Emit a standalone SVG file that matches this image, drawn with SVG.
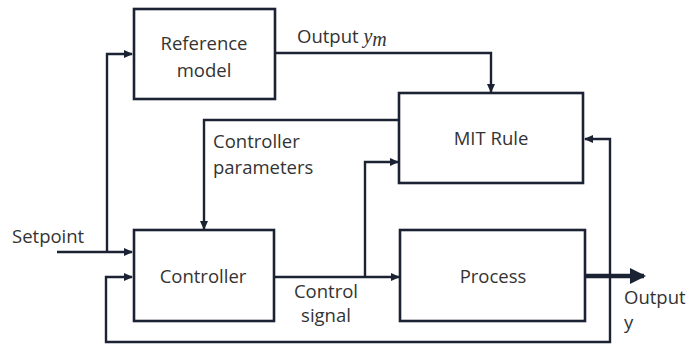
<svg xmlns="http://www.w3.org/2000/svg" width="689" height="347" viewBox="0 0 689 347">
<defs>
<style>
.box{fill:#fff;stroke:#1b2233;stroke-width:2.6}
.ln{fill:none;stroke:#1b2233;stroke-width:2.4}
.t{font-family:"Open Sans","Noto Sans",sans-serif;font-size:18.5px;fill:#333;}
.c{text-anchor:middle}
.m{font-family:"Liberation Serif",serif;font-style:italic;font-size:20px;fill:#333}
</style>
<marker id="ah" markerWidth="10" markerHeight="10" refX="8" refY="5" orient="auto" markerUnits="userSpaceOnUse">
<path d="M0,1 L9,5 L0,9 Z" fill="#1b2233"/>
</marker>
<marker id="ahb" markerWidth="16" markerHeight="16" refX="14" refY="8" orient="auto" markerUnits="userSpaceOnUse">
<path d="M0,0 L16,8 L0,16 Z" fill="#1b2233"/>
</marker>
</defs>
<rect width="689" height="347" fill="#fff"/>
<g id="connectors">
<path class="ln" d="M107,252 V54 H132" marker-end="url(#ah)"/>
<path class="ln" d="M57,252 H132" marker-end="url(#ah)"/>
<path class="ln" d="M275,53 H491 V92" marker-end="url(#ah)"/>
<path class="ln" d="M399,120 H204 V229" marker-end="url(#ah)"/>
<path class="ln" d="M275,277 H399" marker-end="url(#ah)"/>
<path class="ln" d="M365,277 V162 H398" marker-end="url(#ah)"/>
<path class="ln" d="M610,276 V139 H585" marker-end="url(#ah)"/>
<path class="ln" d="M610,276 V342 H106 V277 H132" marker-end="url(#ah)"/>
<path fill="none" stroke="#1b2233" stroke-width="4.5" d="M585,276 H644" marker-end="url(#ahb)"/>
</g>
<g id="reference-model">
<rect class="box" x="134" y="9" width="141" height="90"/>
<text class="t c" x="204" y="50">Reference</text>
<text class="t c" x="204" y="77">model</text>
</g>
<g id="mit-rule">
<rect class="box" x="399" y="93" width="184" height="90"/>
<text class="t c" x="491" y="145">MIT Rule</text>
</g>
<g id="controller">
<rect class="box" x="134" y="230" width="140" height="91"/>
<text class="t c" x="203" y="283">Controller</text>
</g>
<g id="process">
<rect class="box" x="400" y="230" width="185" height="91"/>
<text class="t c" x="493" y="283">Process</text>
</g>
<g id="labels">
<text class="t" x="297" y="43">Output <tspan class="m">y</tspan><tspan class="m" font-size="14" dy="3">m</tspan></text>
<text class="t" x="213" y="148">Controller</text>
<text class="t" x="213" y="174">parameters</text>
<text class="t" x="12" y="243">Setpoint</text>
<text class="t c" x="326" y="298">Control</text>
<text class="t c" x="326" y="322">signal</text>
<text class="t" x="624" y="304">Output</text>
<text class="t" x="624" y="329">y</text>
</g>
</svg>
